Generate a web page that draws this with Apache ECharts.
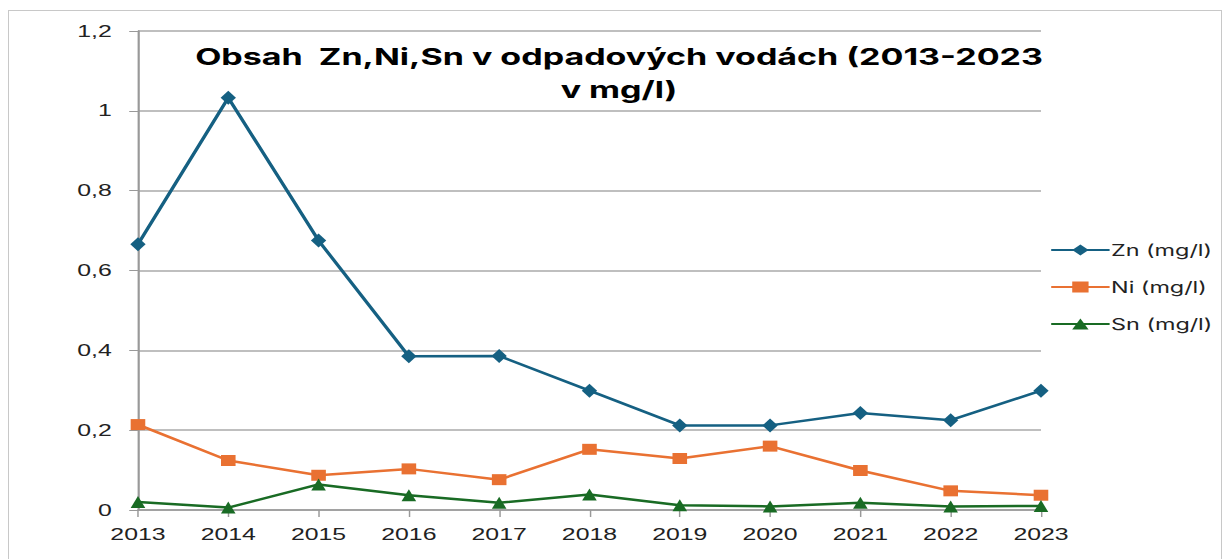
<!DOCTYPE html>
<html>
<head>
<meta charset="utf-8">
<script src="https://cdn.jsdelivr.net/npm/echarts@6/dist/echarts.min.js"></script>
<style>
  html, body { margin: 0; padding: 0; background: #fff; overflow: hidden; }
  #frame {
    position: absolute; left: 8px; top: 10px; width: 1214px; height: 560px;
    border: 1px solid #c8c8c8; box-sizing: border-box;
  }
  /* the source picture is stretched sideways, so the chart is drawn narrow and widened */
  #chart {
    position: absolute; left: 0; top: 0; width: 843px; height: 559px;
    transform: scaleX(1.46); transform-origin: 0 0;
  }
</style>
</head>
<body>
<div id="frame"></div>
<div id="chart"></div>
<script>
  var years = ['2013', '2014', '2015', '2016', '2017', '2018', '2019', '2020', '2021', '2022', '2023'];
  var zn = [0.666, 1.033, 0.675, 0.385, 0.386, 0.299, 0.212, 0.212, 0.243, 0.225, 0.299];
  var ni = [0.214, 0.124, 0.087, 0.103, 0.076, 0.152, 0.129, 0.160, 0.099, 0.048, 0.037];
  var sn = [0.020, 0.006, 0.064, 0.037, 0.018, 0.039, 0.012, 0.009, 0.018, 0.009, 0.010];

  var myChart = echarts.init(document.getElementById('chart'), null, { renderer: 'svg' });
  var option = {
    color: ['#156082', '#E97132', '#196B24'],
    animation: false,
    title: {
      text: 'Obsah  Zn,Ni,Sn v odpadových vodách (2013-2023\nv mg/l)',
      left: 419,
      top: 35,
      textAlign: 'center',
      textStyle: {
        fontFamily: 'Inter, Roboto, sans-serif',
        fontWeight: 'bold',
        fontSize: 23.3,
        lineHeight: 33,
        color: '#000'
      }
    },
    legend: {
      orient: 'vertical',
      left: 714,
      top: 237,
      itemWidth: 40,
      itemHeight: 14,
      itemGap: 21,
      textStyle: {
        fontFamily: 'Inter, Roboto, sans-serif',
        fontSize: 16,
        color: '#222',
        padding: [0, 0, 0, -4]
      },
      data: ['Zn (mg/l)', 'Ni (mg/l)', 'Sn (mg/l)']
    },
    grid: { left: 94.5, right: 130, top: 31, bottom: 49 },
    xAxis: {
      type: 'category',
      data: years,
      boundaryGap: false,
      axisLine: { lineStyle: { color: '#999', width: 1.5 } },
      axisTick: { length: 7, lineStyle: { color: '#999' } },
      axisLabel: {
        fontFamily: '"Liberation Sans", Arial, sans-serif',
        fontSize: 17,
        color: '#222',
        margin: 16
      }
    },
    yAxis: {
      type: 'value',
      min: 0,
      max: 1.2,
      interval: 0.2,
      axisLine: { show: true, lineStyle: { color: '#999', width: 1.5 } },
      axisTick: { show: true, length: 6, lineStyle: { color: '#999' } },
      splitLine: { lineStyle: { color: '#aaa', width: 1.5 } },
      axisLabel: {
        fontFamily: '"Liberation Sans", Arial, sans-serif',
        fontSize: 17,
        color: '#222',
        margin: 18,
        formatter: function (v) { return String(Math.round(v * 10) / 10).replace('.', ','); }
      }
    },
    series: [
      {
        name: 'Zn (mg/l)',
        type: 'line',
        data: zn,
        symbol: 'diamond',
        symbolSize: [10.5, 14],
        lineStyle: { width: 2.5 }
      },
      {
        name: 'Ni (mg/l)',
        type: 'line',
        data: ni,
        symbol: 'rect',
        symbolSize: [10, 11],
        lineStyle: { width: 2.5 }
      },
      {
        name: 'Sn (mg/l)',
        type: 'line',
        data: sn,
        symbol: 'triangle',
        symbolSize: [10, 12],
        lineStyle: { width: 2.5 }
      }
    ]
  };
  myChart.setOption(option);
</script>
</body>
</html>
